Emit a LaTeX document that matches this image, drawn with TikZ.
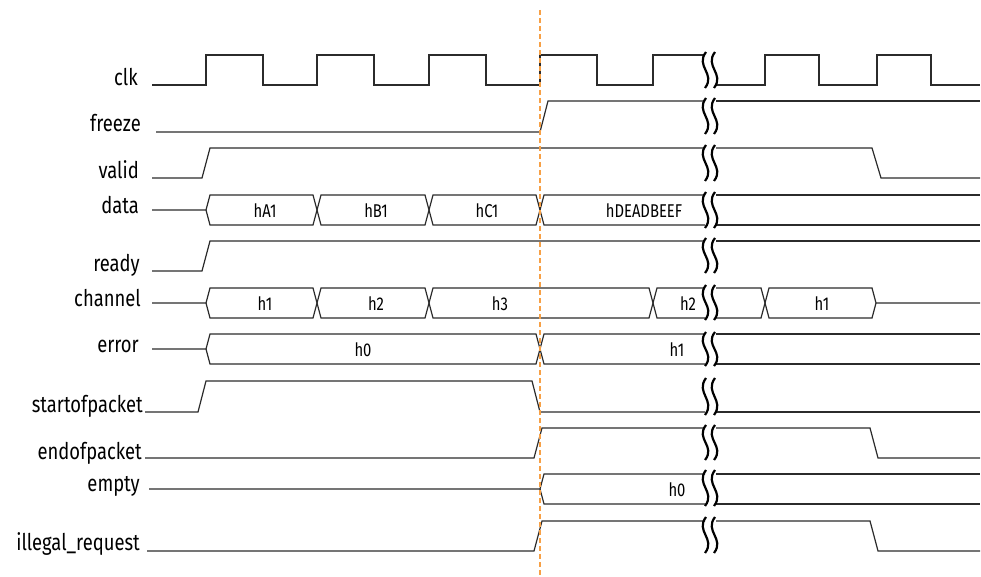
\documentclass[tikz,border=0pt]{standalone}
\usepackage{fontspec}
\setmainfont{Fira Sans}[FakeStretch=0.8]
\usepackage{tikz}
\usetikzlibrary{positioning,calc}
\definecolor{twink}   {HTML}{2B2B2B}
\definecolor{twmark}  {HTML}{F7A045}
\tikzset{
  twlabel/.style={anchor=mid east, inner sep=0pt, text=black,
                  font=\fontsize{23}{26}\selectfont},
  twval/.style={inner sep=0pt, text=black, font=\fontsize{18.5}{20}\selectfont},
  twwave/.style={draw=twink, line width=1.2pt, line join=miter},
  twcut/.style={draw=black, line width=2.2pt},
  twmarker/.style={draw=twmark, line width=2.8pt, dash pattern=on 5pt off 3pt},
}
% break glyph over one row: top y, bottom y
\newcommand{\twbreak}[2]{%
  \draw[twcut] (706,#1) .. controls (695,{0.6*#1+0.4*#2}) and (716,{0.4*#1+0.6*#2}) .. (705,#2);
  \draw[twcut] (715,#1) .. controls (704,{0.6*#1+0.4*#2}) and (725,{0.4*#1+0.6*#2}) .. (714,#2);
}

\begin{document}
\begin{tikzpicture}[x=1pt,y=-1pt]
  \useasboundingbox (0,0) rectangle (981,577);

  \node[twlabel] (lclk)    at (138,83)  {clk};
  \node[twlabel] (lfreeze) at (141,129) {freeze};
  \node[twlabel] (lvalid)  at (139,176) {valid};
  \node[twlabel] (ldata)   at (139,211) {data};
  \node[twlabel] (lready)  at (140,269) {ready};
  \node[twlabel] (lchan)   at (141,304) {channel};
  \node[twlabel] (lerror)  at (139,350) {error};
  \node[twlabel] (lsop)    at (143,410) {startofpacket};
  \node[twlabel] (leop)    at (142,457) {endofpacket};
  \node[twlabel] (lempty)  at (140,489) {empty};
  \node[twlabel] (lillreq) at (140,548) {illegal\_request};

  \draw[twwave] (152,85) -| (206,55) -| (263,85) -| (317,55) -| (374,85) -| (429,55)
                -| (486,85) -| (540,55) -| (597,85) -| (653,55) -- (705,55);
  \draw[twwave] (716,85) -| (765,55) -| (819,85) -| (877,55) -| (931,85) -- (980,85);

  \draw[twwave] (156,132) -- (540,132) -- (548,101) -- (705,101);
  \draw[twwave] (716,101) -- (980,101);

  \draw[twwave] (152,178) -- (202,178) -- (210,148) -- (705,148);
  \draw[twwave] (716,148) -- (872,148) -- (881,178) -- (980,178);

  \draw[twwave] (152,210) -- (206,210) -- (210,195) -- (313,195) -- (321,225) -- (425,225)
                -- (433,195) -- (536,195) -- (544,225) -- (705,225);
  \draw[twwave] (206,210) -- (210,225) -- (313,225) -- (321,195) -- (425,195)
                -- (433,225) -- (536,225) -- (544,195) -- (705,195);
  \draw[twwave] (716,195) -- (980,195) (716,225) -- (980,225);
  \node[twval] (dA1)   at (265,211) {hA1};
  \node[twval] (dB1)   at (376,211) {hB1};
  \node[twval] (dC1)   at (487,211) {hC1};
  \node[twval] (dDEAD) at (644,211) {hDEADBEEF};

  \draw[twwave] (152,271) -- (202,271) -- (210,241) -- (705,241);
  \draw[twwave] (716,241) -- (980,241);

  \draw[twwave] (152,303) -- (206,303) -- (210,288) -- (313,288) -- (321,318) -- (425,318)
                -- (433,288) -- (649,288) -- (657,318) -- (705,318);
  \draw[twwave] (206,303) -- (210,318) -- (313,318) -- (321,288) -- (425,288)
                -- (433,318) -- (649,318) -- (657,288) -- (705,288);
  \draw[twwave] (716,318) -- (761,318) -- (769,288) -- (872,288) -- (876,303) -- (980,303);
  \draw[twwave] (716,288) -- (761,288) -- (769,318) -- (872,318) -- (876,303);
  \node[twval] (ch1)  at (265,304) {h1};
  \node[twval] (ch2)  at (376,304) {h2};
  \node[twval] (ch3)  at (500,304) {h3};
  \node[twval] (ch2b) at (688,304) {h2};
  \node[twval] (ch1b) at (822,304) {h1};

  \draw[twwave] (152,349) -- (206,349) -- (210,334) -- (536,334) -- (544,364) -- (705,364);
  \draw[twwave] (206,349) -- (210,364) -- (536,364) -- (544,334) -- (705,334);
  \draw[twwave] (716,334) -- (980,334) (716,364) -- (980,364);
  \node[twval] (er0) at (363,350) {h0};
  \node[twval] (er1) at (677,350) {h1};

  \draw[twwave] (145,412) -- (198,412) -- (206,381) -- (532,381) -- (540,412) -- (705,412);
  \draw[twwave] (716,412) -- (980,412);

  \draw[twwave] (145,458) -- (534,458) -- (542,428) -- (705,428);
  \draw[twwave] (716,428) -- (870,428) -- (878,458) -- (980,458);

  \draw[twwave] (149,489) -- (540,489) -- (544,474) -- (705,474);
  \draw[twwave] (540,489) -- (544,504) -- (705,504);
  \draw[twwave] (716,474) -- (980,474) (716,504) -- (980,504);
  \node[twval] (em0) at (677,490) {h0};

  \draw[twwave] (147,551) -- (534,551) -- (542,521) -- (705,521);
  \draw[twwave] (716,521) -- (870,521) -- (878,551) -- (980,551);

  \twbreak{52}{88}
  \twbreak{98}{134}
  \twbreak{145}{181}
  \twbreak{192}{228}
  \twbreak{238}{273}
  \twbreak{285}{320}
  \twbreak{332}{366}
  \twbreak{378}{415}
  \twbreak{425}{460}
  \twbreak{470}{506}
  \twbreak{517}{553}

  \draw[twmarker] (540,10) -- (540,577);
\end{tikzpicture}
\end{document}
